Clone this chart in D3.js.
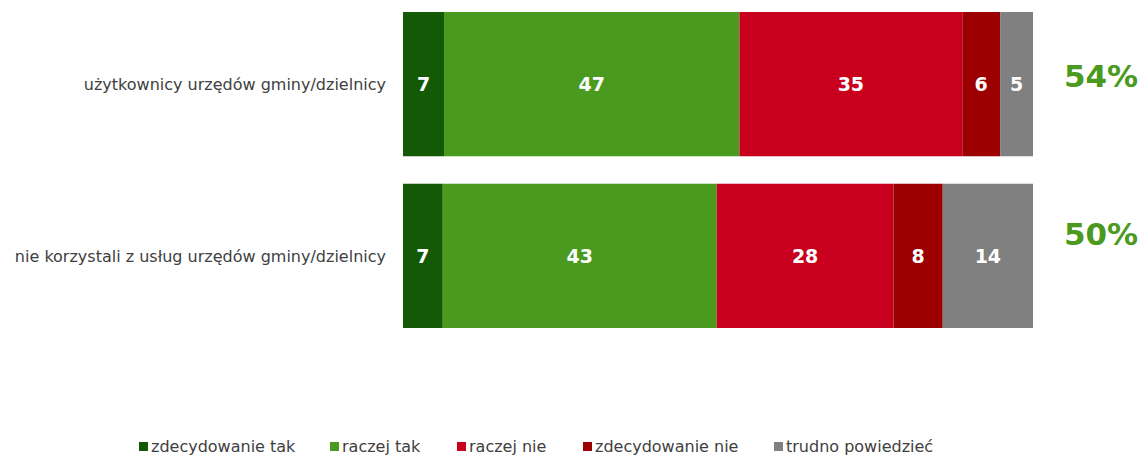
<!DOCTYPE html>
<html><head><meta charset="utf-8">
<script src="https://cdn.jsdelivr.net/npm/d3@7"></script>
<style>body{margin:0;background:#fff}svg{display:block}</style>
</head><body>
<svg id="c" width="1143" height="457"></svg>
<script>
const categories = ["użytkownicy urzędów gminy/dzielnicy", "nie korzystali z usług urzędów gminy/dzielnicy"];
const seriesNames = ["zdecydowanie tak", "raczej tak", "raczej nie", "zdecydowanie nie", "trudno powiedzieć"];
const colors = ["#145a06", "#4a9a20", "#c8001e", "#9c0000", "#808080"];
const zdecydowanieTak = [6.5, 6.3];
const raczejTak = [46.8, 43.4];
const raczejNie = [35.3, 28.0];
const zdecydowanieNie = [6.0, 7.8];
const trudnoPowiedziec = [5.2, 14.3];
const valueLabels = [[7, 47, 35, 6, 5], [7, 43, 28, 8, 14]];
const totalLabels = ["54%", "50%"];

const series = [zdecydowanieTak, raczejTak, raczejNie, zdecydowanieNie, trudnoPowiedziec];
const rows = categories.map((c, i) => {
  const o = {cat: c};
  seriesNames.forEach((s, j) => o[s] = series[j][i]);
  return o;
});
const stack = d3.stack().keys(seriesNames)(rows);

const svg = d3.select("#c");
const x = d3.scaleLinear().domain([0, 99.8]).range([403, 1033]);
const y = d3.scaleBand().domain(categories).range([0, 340]).paddingInner(0.16).paddingOuter(0.07);

const font = "'DejaVu Sans', Verdana, sans-serif";

stack.forEach((layer, j) => {
  const g = svg.append("g");
  g.selectAll("rect").data(layer).join("rect")
    .attr("x", d => x(d[0]))
    .attr("y", d => y(d.data.cat))
    .attr("width", d => x(d[1]) - x(d[0]))
    .attr("height", y.bandwidth())
    .attr("fill", colors[j]);
  g.selectAll("text").data(layer).join("text")
    .attr("x", d => (x(d[0]) + x(d[1])) / 2)
    .attr("y", d => y(d.data.cat) + y.bandwidth() / 2)
    .attr("dy", "0.36em")
    .attr("text-anchor", "middle")
    .attr("fill", "#fff")
    .attr("font-family", font)
    .attr("font-weight", "bold")
    .attr("font-size", 19)
    .text((d, i) => valueLabels[i][j]);
});

// category axis labels
svg.append("g").selectAll("text").data(categories).join("text")
  .attr("x", 386)
  .attr("y", d => y(d) + y.bandwidth() / 2)
  .attr("dy", "0.36em")
  .attr("text-anchor", "end")
  .attr("fill", "#404040")
  .attr("font-family", font)
  .attr("font-size", 16)
  .text(d => d);

// totals
const totalOffsets = [-8, -22];
svg.append("g").selectAll("text").data(categories).join("text")
  .attr("x", 1101)
  .attr("y", (d, i) => y(d) + y.bandwidth() / 2 + totalOffsets[i])
  .attr("dy", "0.36em")
  .attr("text-anchor", "middle")
  .attr("fill", "#4a9a20")
  .attr("font-family", font)
  .attr("font-weight", "bold")
  .attr("font-size", 31)
  .text(d => totalLabels[categories.indexOf(d)]);

// legend
const legendX = [139, 330, 457, 583, 774];
const lg = svg.append("g").selectAll("g").data(seriesNames).join("g")
  .attr("transform", (d, i) => `translate(${legendX[i]},0)`);
lg.append("rect").attr("x", 0).attr("y", 442).attr("width", 9).attr("height", 9)
  .attr("fill", (d, i) => colors[i]);
lg.append("text").attr("x", 12).attr("y", 452)
  .attr("fill", "#404040")
  .attr("font-family", font)
  .attr("font-size", 16)
  .text(d => d);
</script>
</body></html>
